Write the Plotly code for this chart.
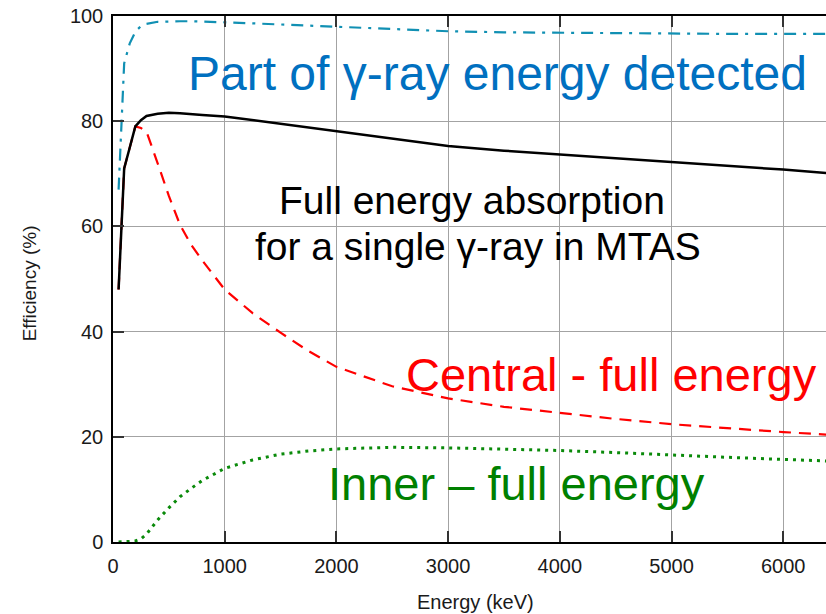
import plotly.graph_objects as go

# Energy grid (keV) and efficiency curves (%)
energy = [50, 100, 150, 200, 250, 300, 400, 500, 600, 700, 800, 1000, 1250,
          1500, 1750, 2000, 2500, 3000, 3500, 4000, 4500, 5000, 5500, 6000, 6400]

part_detected = [67.0, 91.0, 94.8, 97.0, 98.1, 98.5, 98.9, 99.0, 99.0, 99.0, 98.9, 98.8, 98.6,
                 98.4, 98.1, 97.9, 97.5, 97.1, 96.9, 96.8, 96.7, 96.7, 96.6, 96.6, 96.6]

full_energy = [48.0, 71.0, 75.0, 79.0, 80.2, 81.0, 81.4, 81.6, 81.5, 81.4, 81.2, 80.9, 80.2,
               79.4, 78.7, 78.0, 76.7, 75.3, 74.4, 73.7, 73.0, 72.3, 71.6, 70.8, 70.1]

central_full = [48.0, 71.0, 75.0, 79.0, 78.7, 78.0, 72.0, 65.8, 60.3, 56.5, 53.5, 48.0, 43.5,
                39.8, 36.3, 33.3, 29.6, 27.3, 25.7, 24.5, 23.4, 22.4, 21.6, 20.9, 20.4]

inner_full = [0.0, 0.0, 0.1, 0.2, 0.6, 1.5, 4.2, 6.5, 8.6, 10.2, 11.7, 14.0, 15.6,
              16.7, 17.3, 17.7, 18.0, 17.9, 17.7, 17.4, 17.0, 16.5, 16.1, 15.7, 15.4]

x_ticks = [0, 1000, 2000, 3000, 4000, 5000, 6000]
y_ticks = [0, 20, 40, 60, 80, 100]

FONT = "Liberation Sans, Arial, Helvetica, sans-serif"

fig = go.Figure()

fig.add_trace(go.Scatter(x=energy, y=part_detected, mode="lines",
                         line=dict(color="#1190b3", width=2.2, dash="12px,7px,3px,7px")))
fig.add_trace(go.Scatter(x=energy, y=central_full, mode="lines",
                         line=dict(color="#ff0000", width=2.2, dash="12px,8px")))
fig.add_trace(go.Scatter(x=energy, y=full_energy, mode="lines",
                         line=dict(color="#000000", width=2.5)))
fig.add_trace(go.Scatter(x=energy, y=inner_full, mode="lines",
                         line=dict(color="#0a8a0a", width=3, dash="3px,5px")))

labels = [
    dict(text="Part of γ-ray energy detected", x=0.539, y=0.8916, size=48, color="#0070c0"),
    dict(text="Full energy absorption", x=0.504, y=0.6485, size=39, color="#000000"),
    dict(text="for a single γ-ray in MTAS", x=0.512, y=0.5614, size=39, color="#000000"),
    dict(text="Central - full energy", x=0.6992, y=0.3177, size=47, color="#ff0000"),
    dict(text="Inner – full energy", x=0.5662, y=0.1116, size=47, color="#008000"),
]
for lb in labels:
    fig.add_annotation(text=lb["text"], x=lb["x"], y=lb["y"], xref="paper", yref="paper",
                       xanchor="center", yanchor="middle", showarrow=False,
                       font=dict(size=lb["size"], color=lb["color"], family=FONT))

# Axis titles
fig.add_annotation(text="Energy (keV)", x=0.508, y=-0.1135, xref="paper", yref="paper",
                   xanchor="center", yanchor="middle", showarrow=False,
                   font=dict(size=20, color="#1a1a1a", family=FONT))
fig.add_annotation(text="Efficiency (%)", x=-0.1178, y=0.4918, xref="paper", yref="paper",
                   xanchor="center", yanchor="middle", showarrow=False, textangle=-90,
                   font=dict(size=19, color="#1a1a1a", family=FONT))

axis_common = dict(showgrid=True, gridcolor="#a3a3a3", gridwidth=1,
                   showline=True, linecolor="#000000", linewidth=1.5,
                   ticks="inside", ticklen=11, tickwidth=1.5, tickcolor="#333333",
                   zeroline=False,
                   tickfont=dict(size=20, color="#1a1a1a", family=FONT))

fig.update_xaxes(range=[0, 6383], tickvals=x_ticks, mirror="ticks",
                 ticklabelstandoff=5, **axis_common)
fig.update_yaxes(range=[0, 100], tickvals=y_ticks, mirror=False,
                 ticklabelstandoff=4, **axis_common)

fig.update_layout(width=826, height=614, showlegend=False,
                  margin=dict(l=113, r=0, t=16, b=72),
                  paper_bgcolor="white", plot_bgcolor="white")

fig.write_html("out.html")
